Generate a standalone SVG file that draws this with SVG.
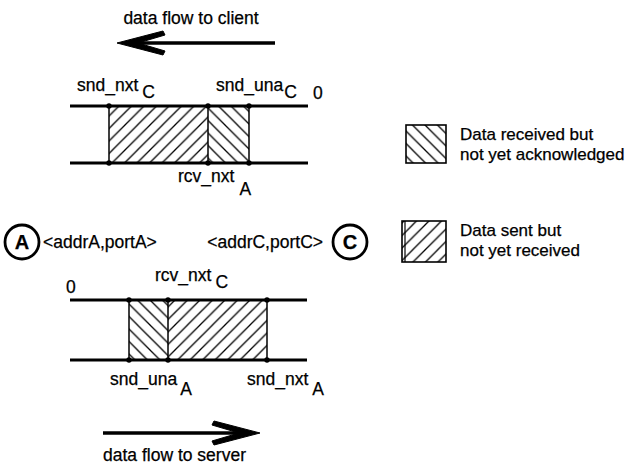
<svg xmlns="http://www.w3.org/2000/svg" width="632" height="465" viewBox="0 0 632 465">
<style>
text{font-family:"Liberation Sans",Arial,sans-serif;font-size:17.5px;fill:#000;stroke:#000;stroke-width:0.25}
.leg{font-size:17px}
.band{stroke:#000;stroke-width:2.8;fill:none}
.vl{stroke:#000;stroke-width:1.5;fill:none}
.dot{fill:#000}
.circ{fill:#fff;stroke:#000;stroke-width:2.8}
.big{font-weight:bold;font-size:20px}
.arr{fill:#000;stroke:#000;stroke-width:1}
</style>
<defs>
<pattern id="fwd" patternUnits="userSpaceOnUse" width="12.5" height="12.5">
<path d="M0,12.5 L12.5,0 M-2,2 L2,-2 M10.5,14.5 L14.5,10.5" stroke="#000" stroke-width="1.3"/>
</pattern>
<pattern id="back" patternUnits="userSpaceOnUse" width="12.5" height="12.5">
<path d="M0,0 L12.5,12.5 M-2,10.5 L2,14.5 M10.5,-2 L14.5,2" stroke="#000" stroke-width="1.3"/>
</pattern>
</defs>

<g id="arrow-client">
<path class="arr" d="M117,43 L163,31 L165,35 L138,43 L165,51 L163,55 Z"/>
<line x1="125" y1="43" x2="275" y2="43" stroke="#000" stroke-width="3.6"/>
<text x="191" y="24" text-anchor="middle">data flow to client</text>
</g>

<g id="top-band">
<rect x="109" y="106" width="99" height="57" fill="url(#fwd)"/>
<rect x="208" y="106" width="41" height="57" fill="url(#back)"/>
<line class="band" x1="70" y1="106" x2="308" y2="106"/>
<line class="band" x1="70" y1="163" x2="308" y2="163"/>
<line class="vl" x1="109" y1="106" x2="109" y2="163"/>
<line class="vl" x1="208" y1="106" x2="208" y2="163"/>
<line class="vl" x1="249" y1="106" x2="249" y2="163"/>
<circle class="dot" cx="109" cy="106" r="2.7"/>
<circle class="dot" cx="208" cy="106" r="2.7"/>
<circle class="dot" cx="249" cy="106" r="2.7"/>
<circle class="dot" cx="109" cy="163" r="2.7"/>
<circle class="dot" cx="208" cy="163" r="2.7"/>
<circle class="dot" cx="249" cy="163" r="2.7"/>
<text x="77" y="91">snd_nxt<tspan dx="4" dy="7">C</tspan></text>
<text x="216" y="91">snd_una<tspan dx="1" dy="7">C</tspan></text>
<text x="313" y="99">0</text>
<text x="178" y="182">rcv_nxt<tspan dx="5" dy="13">A</tspan></text>
</g>

<g id="node-A">
<circle class="circ" cx="22" cy="242" r="17"/>
<text class="big" x="22" y="249" text-anchor="middle">A</text>
<text x="43" y="248">&lt;addrA,portA&gt;</text>
</g>

<g id="node-C">
<circle class="circ" cx="350" cy="242" r="17"/>
<text class="big" x="350" y="249" text-anchor="middle">C</text>
<text x="323" y="248" text-anchor="end">&lt;addrC,portC&gt;</text>
</g>

<g id="legend-received">
<rect x="406" y="125" width="40" height="38" fill="url(#back)" stroke="#000" stroke-width="1.6"/>
<text class="leg" x="460" y="139.5">Data received but</text>
<text class="leg" x="460" y="159.5">not yet acknowledged</text>
</g>

<g id="legend-sent">
<rect x="402" y="221" width="44" height="41" fill="url(#fwd)" stroke="#000" stroke-width="1.6"/>
<line x1="405" y1="221" x2="405" y2="262" stroke="#000" stroke-width="1.2"/>
<text class="leg" x="460" y="236">Data sent but</text>
<text class="leg" x="460" y="256">not yet received</text>
</g>

<g id="bottom-band">
<rect x="129" y="300" width="39" height="60" fill="url(#back)"/>
<rect x="168" y="300" width="99" height="60" fill="url(#fwd)"/>
<line class="band" x1="70" y1="300" x2="307" y2="300"/>
<line class="band" x1="70" y1="360" x2="307" y2="360"/>
<line class="vl" x1="129" y1="300" x2="129" y2="360"/>
<line class="vl" x1="168" y1="300" x2="168" y2="360"/>
<line class="vl" x1="267" y1="300" x2="267" y2="360"/>
<circle class="dot" cx="129" cy="300" r="2.7"/>
<circle class="dot" cx="168" cy="300" r="2.7"/>
<circle class="dot" cx="267" cy="300" r="2.7"/>
<circle class="dot" cx="129" cy="360" r="2.7"/>
<circle class="dot" cx="168" cy="360" r="2.7"/>
<circle class="dot" cx="267" cy="360" r="2.7"/>
<text x="66" y="293">0</text>
<text x="155" y="281">rcv_nxt<tspan dx="4" dy="7">C</tspan></text>
<text x="110" y="385">snd_una<tspan dx="3" dy="10">A</tspan></text>
<text x="247" y="385">snd_nxt<tspan dx="4" dy="10">A</tspan></text>
</g>

<g id="arrow-server">
<line x1="103" y1="433" x2="250" y2="433" stroke="#000" stroke-width="3.6"/>
<path class="arr" d="M260,433 L214,421 L212,425 L239,433 L212,441 L214,445 Z"/>
<text x="103" y="461">data flow to server</text>
</g>
</svg>
